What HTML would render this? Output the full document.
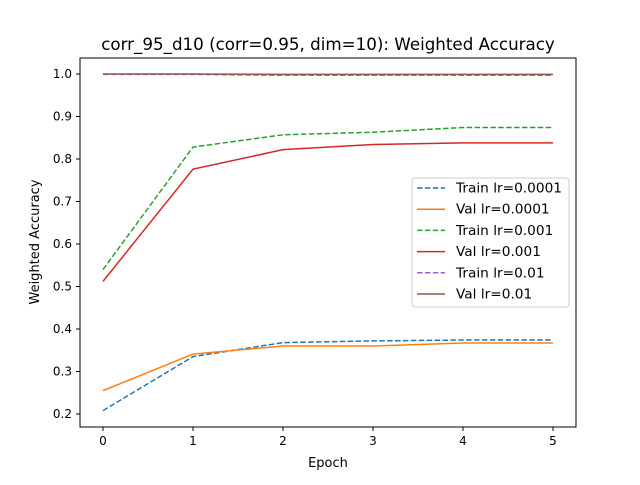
<!DOCTYPE html>
<html><head><meta charset="utf-8"><style>
body{margin:0;background:#fff;}
svg{font-family:"DejaVu Sans","Liberation Sans",sans-serif;}
</style></head><body>
<svg id="c" width="640" height="480" viewBox="0 0 640 480">
<rect width="640" height="480" fill="#fff"/>
<text x="328" y="50" text-anchor="middle" font-size="16.7">corr_95_d10 (corr=0.95, dim=10): Weighted Accuracy</text>
<g id="plot"></g>
<rect x="80" y="58" width="496" height="369" fill="none" stroke="#000" stroke-width="1"/>
<text x="328" y="467" text-anchor="middle" font-size="13">Epoch</text>
<text transform="translate(39,242) rotate(-90)" text-anchor="middle" font-size="13">Weighted Accuracy</text>
<g id="legend"></g>
</svg>
<script>
const epochs=[0,1,2,3,4,5];
const yTicks=[0.2,0.3,0.4,0.5,0.6,0.7,0.8,0.9,1.0];
const seriesNames=["Train lr=0.0001","Val lr=0.0001","Train lr=0.001","Val lr=0.001","Train lr=0.01","Val lr=0.01"];
const trainLr0001=[0.208,0.335,0.368,0.372,0.374,0.374];
const valLr0001=[0.255,0.341,0.360,0.360,0.367,0.367];
const trainLr001=[0.540,0.828,0.857,0.863,0.874,0.874];
const valLr001=[0.512,0.776,0.822,0.834,0.838,0.838];
const trainLr01=[0.999,0.999,0.997,0.997,0.997,0.997];
const valLr01=[1.0,1.0,0.999,0.999,0.999,0.999];
const seriesValues=[trainLr0001,valLr0001,trainLr001,valLr001,trainLr01,valLr01];
const colors=["#1f77b4","#ff7f0e","#2ca02c","#d62728","#9467bd","#8c564b"];
const dashed=[true,false,true,false,true,false];
const NS="http://www.w3.org/2000/svg";
const xs=v=>103+v*90;
const ys=v=>414-(v-0.2)*425;
const plot=document.getElementById('plot');
function mk(t,a,p){const e=document.createElementNS(NS,t);for(const k in a)e.setAttribute(k,a[k]);(p||plot).appendChild(e);return e;}
epochs.forEach(e=>{
 const t=mk('line',{x1:xs(e),x2:xs(e),y1:427,y2:431,stroke:'#000'});
 
 
 const l=mk('text',{x:xs(e),y:445,'text-anchor':'middle','font-size':'12'});l.textContent=e;
 
 
});
yTicks.forEach(v=>{
 const t=mk('line',{x1:76,x2:80,y1:ys(v),y2:ys(v),stroke:'#000'});
 
 
 const l=mk('text',{x:72,y:ys(v)+4,'text-anchor':'end','font-size':'12'});l.textContent=v.toFixed(1);
 
 
});
seriesValues.forEach((s,i)=>{
 const p=mk('polyline',{points:s.map((v,j)=>xs(epochs[j])+','+ys(v)).join(' '),fill:'none',stroke:colors[i],'stroke-width':'1.5'});
 if(dashed[i])p.setAttribute('stroke-dasharray','5.5,2.4');
 
 
});
const lg=document.getElementById('legend');
const box=mk('rect',{x:412,y:178,width:157,height:129,rx:3,fill:'#fff','fill-opacity':'0.8',stroke:'#ccc'},lg);


seriesNames.forEach((n,i)=>{
 const y=188+i*21.2;
 const l=mk('line',{x1:417,x2:445,y1:y,y2:y,stroke:colors[i],'stroke-width':'1.5'},lg);
 if(dashed[i])l.setAttribute('stroke-dasharray','5.5,2.4');
 
 
 const t=mk('text',{x:456,y:y+4.5,'font-size':'13.7'},lg);t.textContent=n;
 
 
});
</script>
</body></html>
